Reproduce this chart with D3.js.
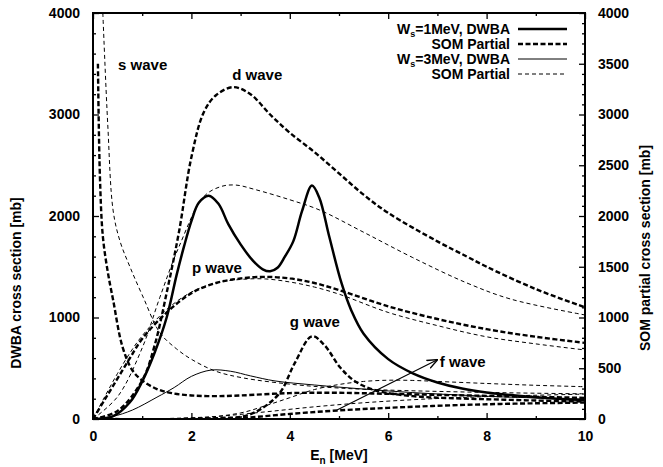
<!DOCTYPE html>
<html>
<head>
<meta charset="utf-8">
<script src="https://cdn.jsdelivr.net/npm/d3@7"></script>
<style>
  html, body { margin: 0; padding: 0; background: #fff; }
  svg text { font-family: "Liberation Sans", Arial, Helvetica, sans-serif; font-weight: bold; fill: #000; }
</style>
</head>
<body>
<svg id="chart" width="663" height="467"></svg>
<script>
// Neutron energy [MeV] vs cross section [mb], pairs of [E, sigma]

// DWBA, Ws = 1 MeV (thick solid)
const dwbaW1 = [[0,0],[0.4,25],[0.75,165],[1,370],[1.25,650],[1.5,1005],[1.7,1420],[1.85,1700],[2,1950],[2.15,2130],[2.35,2200],[2.55,2120],[2.75,1920],[3,1720],[3.25,1560],[3.45,1475],[3.6,1455],[3.75,1490],[3.9,1600],[4.07,1750],[4.25,2050],[4.45,2300],[4.6,2180],[4.8,1800],[5.05,1340],[5.25,1070],[5.5,840],[6,590],[6.5,450],[7,360],[7.5,300],[8,262],[9,215],[10,185]];

// DWBA, Ws = 3 MeV (thin solid)
const dwbaW3 = [[0,0],[0.4,25],[0.8,88],[1.3,215],[1.65,310],[2,420],[2.4,482],[2.8,470],[3.2,425],[3.7,375],[4.5,335],[5.5,295],[6.5,260],[7.5,235],[8.5,215],[10,195]];

// SOM partial-wave cross sections, Ws = 1 MeV (thick dashed)
const sWaveW1 = [[0.1,3500],[0.14,2400],[0.2,1800],[0.3,1450],[0.41,1170],[0.6,710],[0.8,480],[1,380],[1.3,295],[1.6,255],[2,232],[2.5,225],[3,232],[4,255],[5,258],[6,248],[7,238],[8,228],[9,218],[10,208]];
const pWaveW1 = [[0,0],[0.25,200],[0.5,400],[0.75,600],[1,790],[1.5,1050],[2,1240],[2.5,1340],[3,1385],[3.5,1400],[4,1385],[4.5,1340],[5,1270],[6,1110],[7,985],[8,885],[9,810],[10,750]];
const dWaveW1 = [[0,0],[0.5,80],[1,380],[1.25,720],[1.5,1250],[1.75,1850],[2,2580],[2.25,3020],[2.5,3190],[2.85,3270],[3.2,3200],[3.6,3000],[4,2820],[4.5,2630],[5,2420],[5.5,2210],[6,2030],[7,1750],[7.6,1600],[8,1500],[9,1280],[10,1100]];
const fWaveW1 = [[0,0],[2,0],[3,10],[4,50],[5,85],[6,110],[7,130],[8,145],[9,155],[10,162]];
const gWaveW1 = [[0,0],[2,0],[2.6,10],[3.05,25],[3.4,95],[3.8,260],[4.1,550],[4.45,815],[4.7,730],[5.02,510],[5.3,380],[5.63,300],[6,255],[6.5,225],[7,210],[8,195],[9,182],[10,172]];

// SOM partial-wave cross sections, Ws = 3 MeV (thin dashed)
const sWaveW3 = [[0.2,4000],[0.3,2900],[0.41,2050],[0.55,1750],[0.75,1500],[1.02,1200],[1.36,850],[1.7,690],[2.03,580],[2.5,470],[3.05,405],[4.07,340],[5,305],[6,285],[7,272],[8,262],[9,254],[10,248]];
const pWaveW3 = [[0,0],[0.25,230],[0.5,450],[0.75,650],[1,820],[1.5,1080],[2,1250],[2.5,1340],[3,1375],[3.5,1380],[4,1350],[4.5,1300],[5,1230],[6,1050],[7,920],[8,810],[9,740],[10,680]];
const dWaveW3 = [[0,0],[0.5,220],[1,700],[1.36,1200],[1.75,1700],[2.25,2190],[2.6,2290],[2.9,2305],[3.3,2260],[4,2160],[4.6,2060],[5.5,1840],[6.5,1590],[7.6,1340],[8.5,1180],[10,1025]];
const fWaveW3 = [[0,0],[1.5,5],[2.5,25],[3.5,70],[4.5,120],[5.5,160],[6.5,190],[7.5,212],[8.5,228],[10,245]];
const gWaveW3 = [[0,0],[2,5],[3,60],[3.5,130],[4,210],[4.5,290],[5,340],[5.5,370],[6,382],[6.5,380],[7,370],[8,350],[9,332],[10,318]];

// Axis ticks
const xTicks = [0, 2, 4, 6, 8, 10];
const xMinor = [1, 3, 5, 7, 9];
const yLeftTicks = [0, 1000, 2000, 3000, 4000];
const yLeftMinor = d3.range(200, 4000, 200).filter(v => v % 1000 !== 0);
const yRightTicks = [0, 500, 1000, 1500, 2000, 2500, 3000, 3500, 4000];
const yRightMinor = d3.range(100, 4000, 100).filter(v => v % 500 !== 0);

// Wave annotations [label, E, sigma]
const waveLabels = [["s wave", 0.51, 3490], ["d wave", 2.83, 3390], ["p wave", 2.01, 1490], ["g wave", 4.0, 955], ["f wave", 7.05, 560]];
const fArrow = [[4.96, 89], [6.99, 581]];

const svg = d3.select("#chart");
const W = 663, H = 467;
const m = { left: 93, right: 78, top: 13, bottom: 48 };
const x = d3.scaleLinear().domain([0, 10]).range([m.left, W - m.right]);
const yL = d3.scaleLinear().domain([0, 4000]).range([H - m.bottom, m.top]);
const yR = d3.scaleLinear().domain([0, 4000]).range([H - m.bottom, m.top]);

svg.append("defs").append("clipPath").attr("id", "plotclip")
  .append("rect").attr("x", m.left).attr("y", m.top)
  .attr("width", W - m.left - m.right).attr("height", H - m.top - m.bottom);

const styles = {
  thickSolid: { w: 2.5, dash: null },
  thinSolid: { w: 1, dash: null },
  thickDash: { w: 2.4, dash: "5,2.5" },
  thinDash: { w: 1, dash: "4,3" }
};

const line = d3.line().x(d => x(d[0])).y(d => yL(d[1])).curve(d3.curveCatmullRom.alpha(0.5));
const plot = svg.append("g").attr("clip-path", "url(#plotclip)");

function drawCurve(data, st) {
  plot.append("path").datum(data).attr("d", line)
    .attr("fill", "none").attr("stroke", "#000")
    .attr("stroke-width", st.w)
    .attr("stroke-dasharray", st.dash)
    .attr("stroke-linejoin", "round");
}

[sWaveW3, pWaveW3, dWaveW3, fWaveW3, gWaveW3].forEach(d => drawCurve(d, styles.thinDash));
drawCurve(dwbaW3, styles.thinSolid);
[sWaveW1, pWaveW1, dWaveW1, fWaveW1, gWaveW1].forEach(d => drawCurve(d, styles.thickDash));
drawCurve(dwbaW1, styles.thickSolid);

// Axes with inward ticks
function axisG(axis, tx, ty) {
  const g = svg.append("g").attr("transform", `translate(${tx},${ty})`).call(axis);
  g.select(".domain").remove();
  g.selectAll("line").attr("stroke", "#000").attr("stroke-width", 1.3);
  return g;
}
const fs = 14;
const bottom = axisG(d3.axisBottom(x).tickValues(xTicks).tickSize(-6).tickPadding(12).tickFormat(d3.format("d")), 0, H - m.bottom);
bottom.selectAll("text").attr("font-size", fs).attr("font-family", null);
axisG(d3.axisBottom(x).tickValues(xMinor).tickSize(-3).tickFormat(""), 0, H - m.bottom);
axisG(d3.axisTop(x).tickValues(xTicks).tickSize(-6).tickFormat(""), 0, m.top);
axisG(d3.axisTop(x).tickValues(xMinor).tickSize(-3).tickFormat(""), 0, m.top);

const left = axisG(d3.axisLeft(yL).tickValues(yLeftTicks).tickSize(-6).tickPadding(13).tickFormat(d3.format("d")), m.left, 0);
left.selectAll("text").attr("font-size", fs).attr("font-family", null);
axisG(d3.axisLeft(yL).tickValues(yLeftMinor).tickSize(-3).tickFormat(""), m.left, 0);

const right = axisG(d3.axisRight(yR).tickValues(yRightTicks).tickSize(-6).tickPadding(13).tickFormat(d3.format("d")), W - m.right, 0);
right.selectAll("text").attr("font-size", fs).attr("font-family", null);
axisG(d3.axisRight(yR).tickValues(yRightMinor).tickSize(-3).tickFormat(""), W - m.right, 0);

// Frame
svg.append("rect").attr("x", m.left).attr("y", m.top)
  .attr("width", W - m.left - m.right).attr("height", H - m.top - m.bottom)
  .attr("fill", "none").attr("stroke", "#000").attr("stroke-width", 2);

// Axis titles
const xt = svg.append("text").attr("x", (m.left + W - m.right) / 2).attr("y", 460)
  .attr("text-anchor", "middle").attr("font-size", fs);
xt.append("tspan").text("E");
xt.append("tspan").attr("font-size", 10).attr("dy", 4).text("n");
xt.append("tspan").attr("dy", -4).text(" [MeV]");

svg.append("text").attr("transform", "translate(21,283) rotate(-90)")
  .attr("text-anchor", "middle").attr("font-size", fs).text("DWBA cross section [mb]");
svg.append("text").attr("transform", "translate(650,248) rotate(-90)")
  .attr("text-anchor", "middle").attr("font-size", fs).text("SOM partial cross section [mb]");

// Wave labels and f-wave arrow
waveLabels.forEach(([t, e, s]) => {
  svg.append("text").attr("x", x(e)).attr("y", yL(s)).attr("dy", "0.35em")
    .attr("font-size", 15).text(t);
});
svg.select("defs").append("marker").attr("id", "arrowhead")
  .attr("viewBox", "0 0 10 10").attr("refX", 9).attr("refY", 5)
  .attr("markerWidth", 9).attr("markerHeight", 9).attr("orient", "auto")
  .append("path").attr("d", "M0,1 L10,5 L0,9").attr("fill", "none").attr("stroke", "#000").attr("stroke-width", 1.2);
svg.append("line")
  .attr("x1", x(fArrow[0][0])).attr("y1", yL(fArrow[0][1]))
  .attr("x2", x(fArrow[1][0])).attr("y2", yL(fArrow[1][1]))
  .attr("stroke", "#000").attr("stroke-width", 1.2).attr("marker-end", "url(#arrowhead)");

// Legend
const legendRows = [
  { main: "W", sub: "s", rest: "=1MeV, DWBA", st: styles.thickSolid, y: 29 },
  { main: "SOM Partial", st: styles.thickDash, y: 44 },
  { main: "W", sub: "s", rest: "=3MeV, DWBA", st: styles.thinSolid, y: 59 },
  { main: "SOM Partial", st: styles.thinDash, y: 74 }
];
legendRows.forEach(r => {
  const t = svg.append("text").attr("x", 510).attr("y", r.y).attr("dy", "0.35em")
    .attr("text-anchor", "end").attr("font-size", 14);
  t.append("tspan").text(r.main);
  if (r.sub) {
    t.append("tspan").attr("font-size", 9).attr("dy", 3).text(r.sub);
    t.append("tspan").attr("dy", -3).text(r.rest);
  }
  svg.append("line").attr("x1", 518).attr("x2", 567).attr("y1", r.y).attr("y2", r.y)
    .attr("stroke", "#000").attr("stroke-width", r.st.w).attr("stroke-dasharray", r.st.dash);
});
</script>
</body>
</html>
